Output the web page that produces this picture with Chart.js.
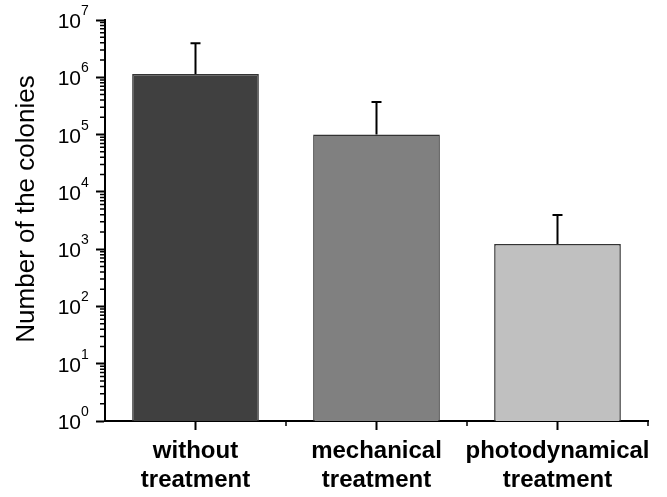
<!DOCTYPE html>
<html>
<head>
<meta charset="utf-8">
<script src="https://cdn.jsdelivr.net/npm/chart.js@4/dist/chart.umd.min.js"></script>
<style>
  html, body { margin: 0; padding: 0; background: #fff; }
  #wrap { width: 667px; height: 497px; }
</style>
</head>
<body>
<div id="wrap"><canvas id="colonies"></canvas></div>
<script>
// Data
const groups = [['without', 'treatment'], ['mechanical', 'treatment'], ['photodynamical', 'treatment']];
const colonies = [1.14e6, 1.0e5, 1.23e3];
const colonySD = [2.8e6, 2.7e5, 2.7e3];
const barColors = ['#404040', '#808080', '#c0c0c0'];
const decades = [0, 1, 2, 3, 4, 5, 6, 7];
const yTitle = 'Number of the colonies';

const isPow10 = (v) => Math.abs(Math.log10(v) - Math.round(Math.log10(v))) < 1e-9;

// upper error bars + minor ticks + 10^n labels
const extras = {
  id: 'extras',
  afterDraw(chart) {
    const { ctx, scales: { x, y } } = chart;
    ctx.save();

    // error bars
    ctx.strokeStyle = '#000';
    ctx.lineWidth = 2;
    colonies.forEach((v, i) => {
      const px = x.getPixelForValue(i);
      const yTop = y.getPixelForValue(v + colonySD[i]);
      const yBar = y.getPixelForValue(v);
      ctx.beginPath();
      ctx.moveTo(px, yBar);
      ctx.lineTo(px, yTop);
      ctx.moveTo(px - 5, yTop);
      ctx.lineTo(px + 5, yTop);
      ctx.stroke();
    });

    // minor y ticks (2..9 in every decade)
    const axisX = chart.chartArea.left;
    ctx.lineWidth = 1.5;
    ctx.beginPath();
    decades.slice(0, -1).forEach((d) => {
      for (let m = 2; m <= 9; m++) {
        const py = y.getPixelForValue(m * Math.pow(10, d));
        ctx.moveTo(axisX - 5, py);
        ctx.lineTo(axisX, py);
      }
    });
    ctx.stroke();

    // minor x ticks at category boundaries
    const bounds = [];
    for (let i = 0; i < groups.length - 1; i++) {
      bounds.push((x.getPixelForValue(i) + x.getPixelForValue(i + 1)) / 2);
    }
    bounds.push(chart.chartArea.right);
    ctx.beginPath();
    bounds.forEach((bx) => {
      ctx.moveTo(bx, chart.chartArea.bottom);
      ctx.lineTo(bx, chart.chartArea.bottom + 5);
    });
    ctx.stroke();

    // y labels as 10 with superscript exponent
    ctx.fillStyle = '#000';
    decades.forEach((d) => {
      const py = y.getPixelForValue(Math.pow(10, d));
      ctx.font = '21px "Liberation Sans", Arial, sans-serif';
      ctx.textAlign = 'right';
      ctx.textBaseline = 'alphabetic';
      ctx.fillText('10', 81, py + 8);
      ctx.font = '14px "Liberation Sans", Arial, sans-serif';
      ctx.textAlign = 'left';
      ctx.fillText(String(d), 81, py - 5);
    });

    // y title
    ctx.translate(27, 209);
    ctx.rotate(-Math.PI / 2);
    ctx.font = '26px "Liberation Sans", Arial, sans-serif';
    ctx.textAlign = 'center';
    ctx.textBaseline = 'middle';
    ctx.fillText(yTitle, 0, 0);
    ctx.restore();
  },
};

new Chart(document.getElementById('colonies'), {
  type: 'bar',
  data: {
    labels: groups,
    datasets: [
      {
        data: colonies,
        backgroundColor: barColors,
        borderColor: '#333333',
        borderWidth: 1.5,
        barPercentage: 0.7,
        categoryPercentage: 1,
      },
    ],
  },
  options: {
    responsive: true,
    maintainAspectRatio: false,
    animation: false,
    layout: { padding: { top: 20, right: 19, left: 0, bottom: 0 } },
    plugins: {
      legend: { display: false },
      tooltip: { enabled: false },
    },
    scales: {
      x: {
        grid: {
          display: true,
          offset: false,
          drawOnChartArea: false,
          drawTicks: true,
          tickLength: 9,
          tickWidth: 2,
          tickColor: '#000',
        },
        border: { display: true, color: '#000', width: 2 },
        ticks: {
          color: '#000',
          padding: 7,
          maxRotation: 0,
          autoSkip: false,
          font: { family: '"Liberation Sans", Arial, sans-serif', size: 24, weight: 'bold', lineHeight: 1.2 },
        },
        afterFit: (scale) => { scale.height = 76; },
      },
      y: {
        type: 'logarithmic',
        min: 1,
        max: 1e7,
        grid: {
          display: true,
          drawOnChartArea: false,
          drawTicks: true,
          tickLength: 9,
          tickWidth: 2,
          tickColor: (c) => (c.tick && isPow10(c.tick.value) ? '#000' : 'rgba(0,0,0,0)'),
        },
        border: { display: true, color: '#000', width: 2 },
        ticks: { display: false, autoSkip: false },
        afterFit: (scale) => { scale.width = 105; },
      },
    },
  },
  plugins: [extras],
});
</script>
</body>
</html>
